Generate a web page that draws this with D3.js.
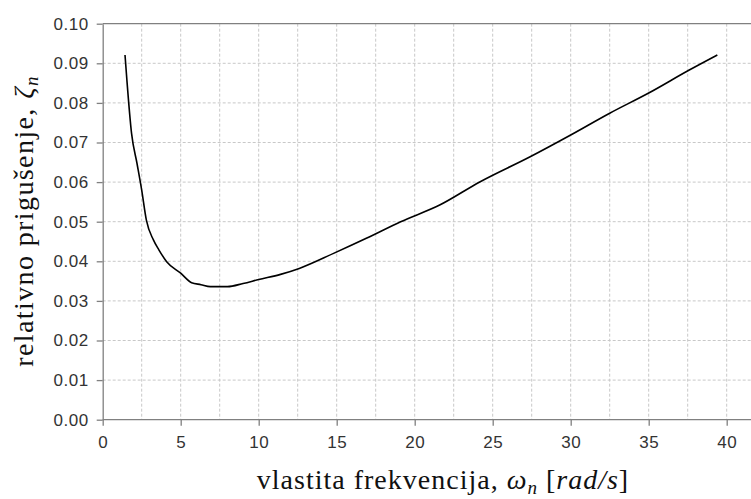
<!DOCTYPE html>
<html>
<head>
<meta charset="utf-8">
<script src="https://cdn.jsdelivr.net/npm/d3@7"></script>
<style>
  body { margin: 0; background: #fff; }
  svg { display: block; }
</style>
</head>
<body>
<svg id="chart" width="751" height="499"></svg>
<script>
// vlastita frekvencija (rad/s) i relativno prigusenje, ocitano sa slike
const omega = [1.43, 1.55, 1.85, 2.2, 2.5, 2.8, 3.25, 3.6, 4.1, 5.0, 5.7, 6.3, 6.9, 8.0, 9.0, 10.0, 11.4, 12.6, 14.8, 16.9, 19.1, 21.6, 24.2, 27.4, 30.0, 32.5, 35.0, 37.6, 39.4]
const zeta = [0.0921, 0.0858, 0.0723, 0.0647, 0.058, 0.0504, 0.0454, 0.0429, 0.0399, 0.037, 0.0346, 0.0341, 0.0336, 0.0336, 0.0344, 0.0354, 0.0367, 0.0382, 0.042, 0.0458, 0.050, 0.0542, 0.0601, 0.0664, 0.0719, 0.0774, 0.0825, 0.0883, 0.0921]

const xTicks = [0, 5, 10, 15, 20, 25, 30, 35, 40]
const xGrid = [2.5, 5, 7.5, 10, 12.5, 15, 17.5, 20, 22.5, 25, 27.5, 30, 32.5, 35, 37.5, 40]
const yTicks = [0, 0.01, 0.02, 0.03, 0.04, 0.05, 0.06, 0.07, 0.08, 0.09, 0.10]

const svg = d3.select('#chart')

const mLeft = 102.7, mTop = 23.7, mBottom = 419.7
const xScale = d3.scaleLinear().domain([0, 42]).range([mLeft, mLeft + 42 * 15.6])
const yScale = d3.scaleLinear().domain([0, 0.10]).range([mBottom, mTop])

// mreza
svg.append('g').selectAll('line').data(xGrid).enter().append('line')
  .attr('x1', d => xScale(d)).attr('x2', d => xScale(d))
  .attr('y1', mTop).attr('y2', mBottom)
  .attr('stroke', '#c8c8c8').attr('stroke-width', 1).attr('stroke-dasharray', '3,2')
svg.append('g').selectAll('line').data(yTicks.slice(1, -1)).enter().append('line')
  .attr('x1', mLeft).attr('x2', 751)
  .attr('y1', d => yScale(d)).attr('y2', d => yScale(d))
  .attr('stroke', '#c8c8c8').attr('stroke-width', 1).attr('stroke-dasharray', '3,2')

// gornja granica
svg.append('line').attr('x1', mLeft).attr('x2', 751).attr('y1', mTop).attr('y2', mTop)
  .attr('stroke', '#808080').attr('stroke-width', 1.3)

const xAxis = d3.axisBottom(xScale).tickValues(xTicks).tickSize(6).tickSizeOuter(0).tickPadding(10)
const yAxis = d3.axisLeft(yScale).tickValues(yTicks).tickSize(6).tickSizeOuter(0).tickPadding(8).tickFormat(d3.format('.2f'))

const xAxisGroup = svg.append('g').attr('transform', `translate(0, ${mBottom})`).call(xAxis)
const yAxisGroup = svg.append('g').attr('transform', `translate(${mLeft}, 0)`).call(yAxis)

xAxisGroup.select('.domain').attr('d', `M${mLeft},0H751`)
;[xAxisGroup, yAxisGroup].forEach(g => {
  g.select('.domain').attr('stroke', '#808080').attr('stroke-width', 1.3)
  g.selectAll('.tick line').attr('stroke', '#808080').attr('stroke-width', 1.3)
  g.selectAll('.tick text')
    .attr('fill', '#333')
    .style('font-family', '"Liberation Sans", Arial, sans-serif')
    .style('font-size', '17px')
    .style('letter-spacing', '0.5px')
})

// kriva
const line = d3.line().x((d, i) => xScale(omega[i])).y((d, i) => yScale(zeta[i])).curve(d3.curveMonotoneX)
svg.append('path').datum(zeta).attr('fill', 'none')
  .attr('d', line).attr('stroke', '#000').attr('stroke-width', 1.6)

// naslovi osa
const serif = '"Liberation Serif", "Times New Roman", serif'
const xTitle = svg.append('text').attr('x', 443).attr('y', 489).attr('text-anchor', 'middle')
  .style('font-family', serif).style('font-size', '28px').style('letter-spacing', '1px').attr('fill', '#111')
xTitle.append('tspan').text('vlastita frekvencija, ')
xTitle.append('tspan').style('font-style', 'italic').text('ω')
xTitle.append('tspan').style('font-style', 'italic').style('font-size', '19px').attr('dy', 5).text('n')
xTitle.append('tspan').attr('dy', -5).text(' [')
xTitle.append('tspan').style('font-style', 'italic').text('rad/s')
xTitle.append('tspan').text(']')

const yTitle = svg.append('text').attr('transform', 'translate(33, 221) rotate(-90)').attr('text-anchor', 'middle')
  .style('font-family', serif).style('font-size', '28px').style('letter-spacing', '1.4px').attr('fill', '#111')
yTitle.append('tspan').text('relativno prigušenje, ')
yTitle.append('tspan').style('font-style', 'italic').text('ζ')
yTitle.append('tspan').style('font-style', 'italic').style('font-size', '19px').attr('dy', 5).text('n')
</script>
</body>
</html>
